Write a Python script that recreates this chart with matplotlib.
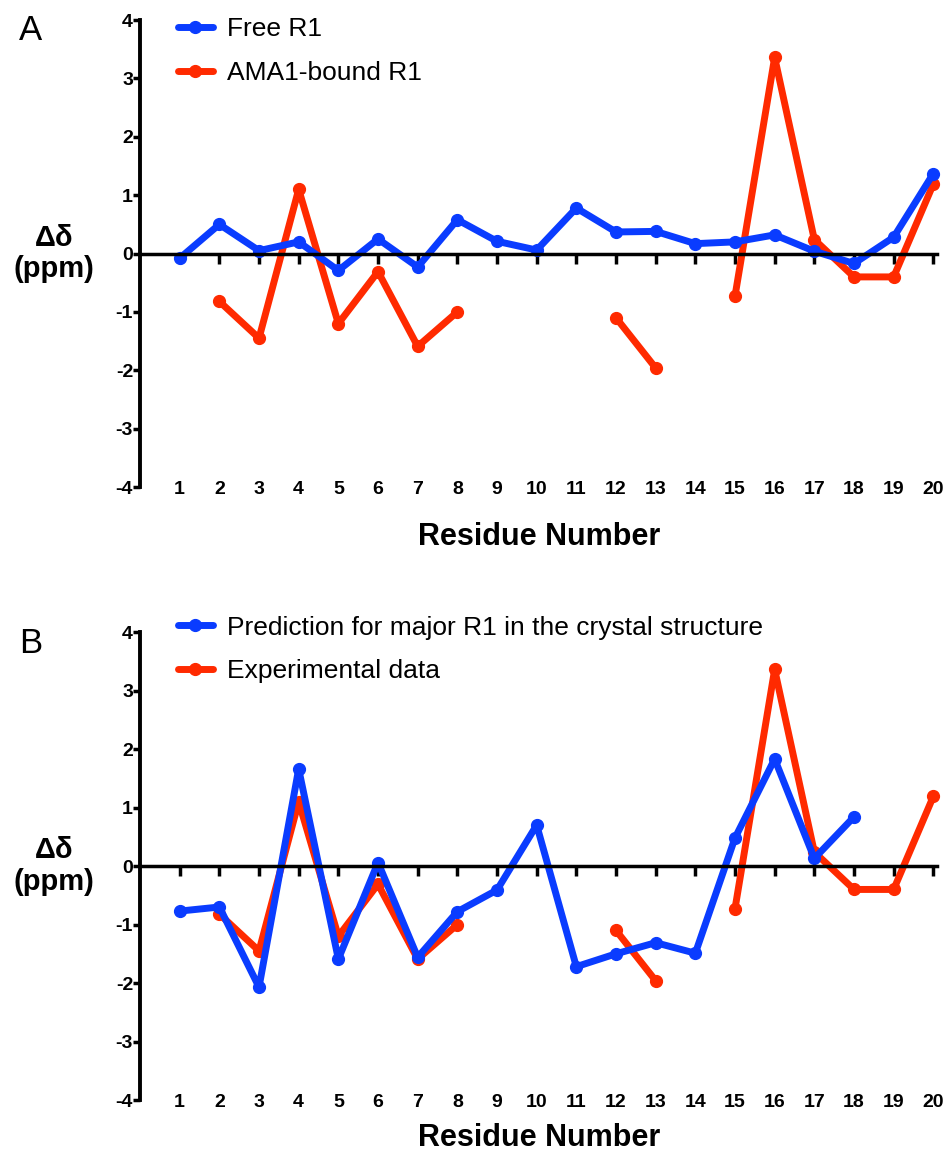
import numpy as np
import matplotlib
matplotlib.use('Agg')
import matplotlib.pyplot as plt

plt.rcParams['font.family'] = ['Liberation Sans', 'DejaVu Sans']

residues = np.arange(1, 21)
nan = np.nan

# panel A
free_r1 = [-0.08, 0.5, 0.05, 0.2, -0.29, 0.25, -0.23, 0.58, 0.21, 0.06,
           0.78, 0.37, 0.38, 0.17, 0.2, 0.32, 0.04, -0.17, 0.28, 1.37]
bound_r1 = [nan, -0.82, -1.45, 1.1, -1.2, -0.31, -1.59, -1.0, nan, nan,
            nan, -1.1, -1.96, nan, -0.73, 3.36, 0.24, -0.4, -0.4, 1.19]

# panel B
predicted = [-0.77, -0.7, -2.07, 1.66, -1.59, 0.06, -1.56, -0.78, -0.41, 0.7,
             -1.72, -1.5, -1.31, -1.49, 0.48, 1.83, 0.13, 0.84, nan, nan]
experimental = bound_r1

y_ticks = [-4, -3, -2, -1, 0, 1, 2, 3, 4]

BLUE = '#0a3cff'
RED = '#ff2a00'

fig = plt.figure(figsize=(9.48, 11.61), dpi=100)
ax_a = fig.add_axes([0.1477, 0.5805, 0.841, 0.4022])
ax_b = fig.add_axes([0.1477, 0.0525, 0.841, 0.4031])


def draw_panel(ax, blue_vals, red_vals, blue_label, red_label, leg_y, xlab_pad):
    red_line, = ax.plot(residues, red_vals, color=RED, lw=5, marker='o',
                        ms=8.5, solid_capstyle='round', clip_on=False, label=red_label)
    blue_line, = ax.plot(residues, blue_vals, color=BLUE, lw=5, marker='o',
                         ms=8.5, solid_capstyle='round', clip_on=False, label=blue_label)
    ax.set_xlim(0, 20.1)
    ax.set_ylim(-4, 4)
    ax.set_yticks(y_ticks)
    ax.set_yticklabels([str(v) for v in y_ticks], fontweight='bold', fontsize=14)
    ax.spines['top'].set_visible(False)
    ax.spines['right'].set_visible(False)
    ax.spines['left'].set_linewidth(2.8)
    ax.spines['bottom'].set_position(('data', 0))
    ax.spines['bottom'].set_linewidth(2.5)
    ax.set_xticks(residues)
    ax.tick_params(axis='x', direction='out', length=7, width=2.5, labelbottom=False)
    ax.tick_params(axis='y', direction='out', length=5, width=2.5, pad=0)

    # residue labels sit along the bottom of the panel
    sec = ax.secondary_xaxis(0)
    sec.set_xticks(residues)
    sec.set_xticklabels([str(r) for r in residues], fontweight='bold', fontsize=14)
    sec.tick_params(length=0, pad=-4)
    sec.spines['bottom'].set_visible(False)
    sec.set_xlabel('Residue Number', fontsize=22, fontweight='bold', labelpad=xlab_pad)

    ax.set_ylabel('Δδ\n(ppm)', rotation=0, fontsize=21, fontweight='bold',
                  linespacing=1.15, va='center', ha='center')
    ax.yaxis.set_label_coords(-0.108, 0.5)

    ax.legend(handles=[blue_line, red_line], loc='upper left',
              bbox_to_anchor=(0.048, leg_y), frameon=False, fontsize=19,
              handlelength=1.3, handletextpad=0.55, labelspacing=0.74,
              borderpad=0, borderaxespad=0)


draw_panel(ax_a, free_r1, bound_r1, 'Free R1', 'AMA1-bound R1', 1.006, 17)
draw_panel(ax_b, predicted, experimental,
           'Prediction for major R1 in the crystal structure', 'Experimental data', 1.035, 8)

fig.text(0.02, 0.974, 'A', fontsize=25, va='center', ha='left')
fig.text(0.02, 0.446, 'B', fontsize=25, va='center', ha='left')

fig.savefig('out.png', dpi=100)
